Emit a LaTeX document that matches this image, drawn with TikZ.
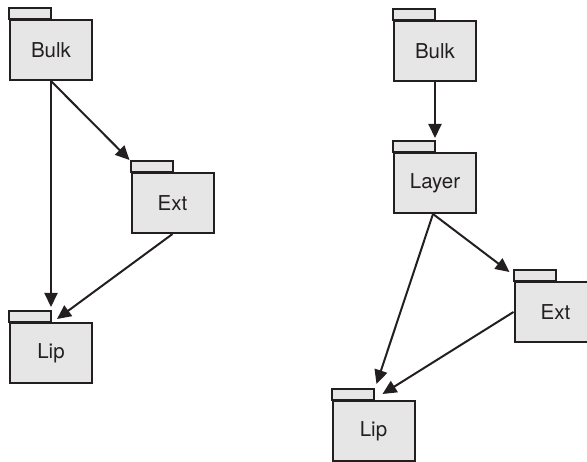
\documentclass[tikz,border=0pt]{standalone}
\usepackage{fontspec}
\setmainfont{TeX Gyre Heros}
\usetikzlibrary{arrows.meta}
\definecolor{lineC}{HTML}{231F20}
\definecolor{fillC}{HTML}{E6E6E6}
\tikzset{
  folder/.style={draw=lineC, fill=fillC, line width=2pt, minimum width=82pt,
    minimum height=60pt, inner sep=0pt, text=lineC,
    font=\fontsize{20.5}{24}\selectfont},
  tabbox/.style={draw=lineC, fill=fillC, line width=2pt},
  link/.style={draw=lineC, line width=2pt, -{Triangle[length=14pt,width=13pt]}}
}
\begin{document}
\begin{tikzpicture}[x=1pt,y=-1pt]
\useasboundingbox (0,0) rectangle (587,462);
\clip (0,0) rectangle (587,462);
% left diagram
\node[folder] (lb) at (51,50) {Bulk};
\node[folder] (le) at (172.5,203) {Ext};
\node[folder] (ll) at (51,353) {Lip};
% right diagram
\node[folder] (rb) at (435,51) {Bulk};
\node[folder] (rp) at (435,183) {Layer};
\node[folder] (re) at (555.5,312) {Ext};
\node[folder] (rl) at (373.5,431) {Lip};
\foreach \n in {lb,le,ll,rb,rp,re,rl}
  \draw[tabbox] (\n.north west) rectangle ([xshift=42pt,yshift=11pt]\n.north west);
% connectors
\draw[link] (lb.south) -- ([yshift=15pt]ll.north);
\draw[link] (lb.south) -- ([xshift=-1pt,yshift=12pt]le.north west);
\draw[link] (le.south) -- ([xshift=6pt,yshift=3pt]ll.north);
\draw[link] (rb.south) -- ([yshift=14pt]rp.north);
\draw[link] ([xshift=-2pt]rp.south) -- ([xshift=-4pt,yshift=9pt]re.north west);
\draw[link] ([xshift=-2pt]rp.south) -- ([xshift=45pt,yshift=16pt]rl.north west);
\draw[link] (re.west) -- ([xshift=51pt,yshift=6pt]rl.north west);
\end{tikzpicture}
\end{document}
